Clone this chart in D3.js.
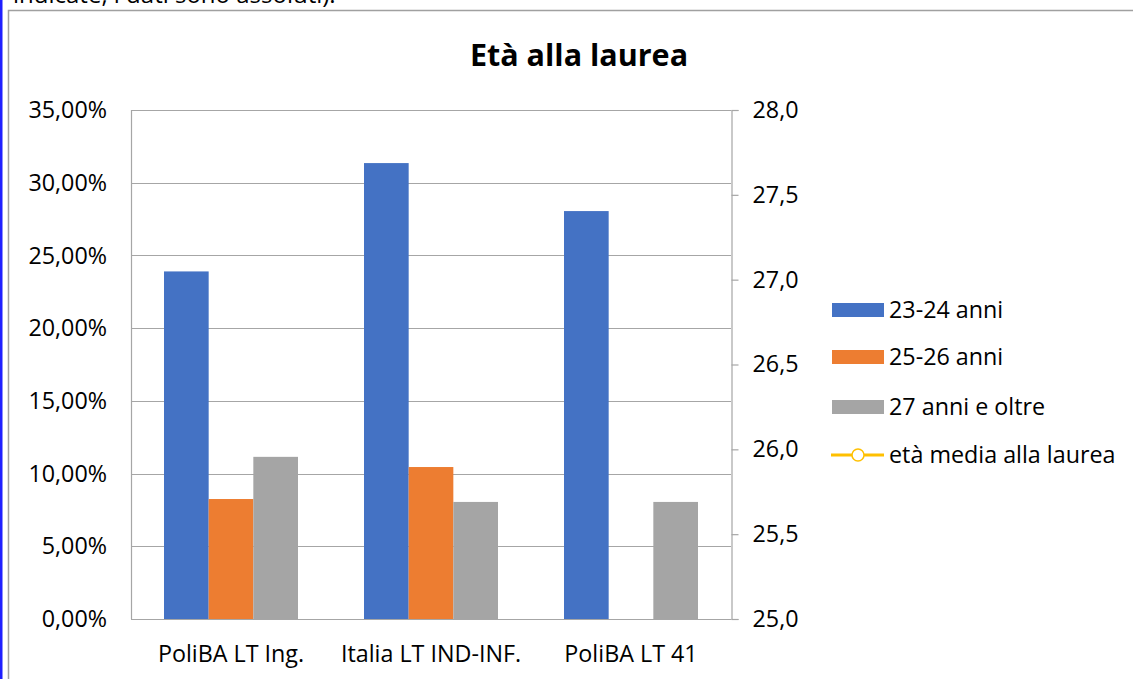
<!DOCTYPE html>
<html><head><meta charset="utf-8">
<script src="https://cdn.jsdelivr.net/npm/d3@7"></script>
<style>
html,body{margin:0;padding:0;background:#fff;overflow:hidden}
svg{display:block;font-family:"Open Sans",sans-serif}
</style></head>
<body><svg id="c" width="1133" height="679"></svg>
<script>
const categories = ["PoliBA LT Ing.", "Italia LT IND-INF.", "PoliBA LT 41"];
const seriesNames = ["23-24 anni", "25-26 anni", "27 anni e oltre"];
const s2324 = [23.9, 31.35, 28.05];
const s2526 = [8.25, 10.45, null];
const s27plus = [11.15, 8.05, 8.05];
const meanAge = [null, null, null];
const leftTicks = [0, 5, 10, 15, 20, 25, 30, 35];
const rightTicks = [25.0, 25.5, 26.0, 26.5, 27.0, 27.5, 28.0];
const colors = ["#4472c4", "#ed7d31", "#a5a5a5"];
const lineColor = "#ffc000";
const lineName = "età media alla laurea";
const title = "Età alla laurea";
const topNote = "indicate, i dati sono assoluti).";

const values = [s2324, s2526, s27plus];
const svg = d3.select("#c");
const m = {l:131, r:731, t:110, b:619};

// page elements
svg.append("rect").attr("x",0).attr("y",0).attr("width",2.5).attr("height",679).attr("fill","#1f1fff");
svg.append("text").attr("x",13).attr("y",3).attr("font-size",24).attr("fill","#000").text(topNote);
svg.append("path").attr("d","M8.5,679 V10.5 H1133").attr("fill","none").attr("stroke","#a0a0a0").attr("stroke-width",1.5);

const x0 = d3.scaleBand().domain(categories).range([m.l,m.r]).paddingInner(0.33).paddingOuter(0.165);
const x1 = d3.scaleBand().domain(seriesNames).range([0,x0.bandwidth()]);
const yL = d3.scaleLinear().domain([0,35]).range([m.b,m.t]);
const yR = d3.scaleLinear().domain([25,28]).range([m.b,m.t]);

// gridlines
svg.append("g").selectAll("line").data(leftTicks).join("line")
  .attr("x1",m.l).attr("x2",m.r).attr("y1",d=>Math.round(yL(d))+0.5).attr("y2",d=>Math.round(yL(d))+0.5)
  .attr("stroke","#a6a6a6").attr("stroke-width",1.2);
svg.append("line").attr("x1",m.l+0.5).attr("x2",m.l+0.5).attr("y1",m.t).attr("y2",m.b).attr("stroke","#a6a6a6").attr("stroke-width",1.2);

// bars
const bars = [];
values.forEach((arr,si)=>arr.forEach((v,ci)=>{ if(v!=null) bars.push({si,ci,v}); }));
svg.append("g").selectAll("rect").data(bars).join("rect")
  .attr("x",d=>x0(categories[d.ci])+x1(seriesNames[d.si]))
  .attr("width",x1.bandwidth())
  .attr("y",d=>yL(d.v)).attr("height",d=>yL(0)-yL(d.v))
  .attr("fill",d=>colors[d.si]);

// line series (no visible data)
const lineGen = d3.line().defined(d=>d!=null).x((d,i)=>x0(categories[i])+x0.bandwidth()/2).y(d=>yR(d));
svg.append("path").datum(meanAge).attr("d",lineGen).attr("fill","none").attr("stroke",lineColor).attr("stroke-width",3);

// left axis labels
const fs = 23.3;
svg.append("g").selectAll("text").data(leftTicks).join("text")
  .attr("x",107).attr("y",d=>yL(d)).attr("dy","0.35em").attr("text-anchor","end")
  .attr("font-size",fs).attr("fill","#000")
  .text(d=>d3.format(".2f")(d).replace(".",",")+"%");

// right axis
const gR = svg.append("g").attr("transform",`translate(${m.r+0.5},0)`)
  .call(d3.axisRight(yR).tickValues(rightTicks).tickSize(7).tickPadding(13).tickFormat(d=>d3.format(".1f")(d).replace(".",",")));
gR.select(".domain").attr("stroke","#a6a6a6").attr("stroke-width",1.2);
gR.selectAll(".tick line").attr("stroke","#a6a6a6").attr("stroke-width",1.2);
gR.selectAll(".tick text").attr("font-size",fs).attr("fill","#000").attr("font-family","Open Sans").attr("x",21);

// x labels
svg.append("g").selectAll("text").data(categories).join("text")
  .attr("x",d=>x0(d)+x0.bandwidth()/2).attr("y",654).attr("dy","0.35em").attr("text-anchor","middle")
  .attr("font-size",fs).attr("fill","#000").text(d=>d);

// title
svg.append("text").attr("x",579).attr("y",55).attr("dy","0.35em").attr("text-anchor","middle")
  .attr("font-size",30.5).attr("font-weight","bold").attr("fill","#000").text(title);

// legend
const legY = [310, 357, 407, 455];
const lg = svg.append("g");
seriesNames.forEach((n,i)=>{
  lg.append("rect").attr("x",832).attr("y",legY[i]-7).attr("width",52).attr("height",14).attr("fill",colors[i]);
  lg.append("text").attr("x",889).attr("y",legY[i]).attr("dy","0.35em").attr("font-size",fs).attr("fill","#000").text(n);
});
lg.append("line").attr("x1",831).attr("x2",884).attr("y1",legY[3]).attr("y2",legY[3]).attr("stroke",lineColor).attr("stroke-width",3);
lg.append("circle").attr("cx",858).attr("cy",legY[3]).attr("r",6).attr("fill","#fff").attr("stroke",lineColor).attr("stroke-width",1.5);
lg.append("text").attr("x",889).attr("y",legY[3]).attr("dy","0.35em").attr("font-size",fs).attr("fill","#000").text(lineName);
</script></body></html>
